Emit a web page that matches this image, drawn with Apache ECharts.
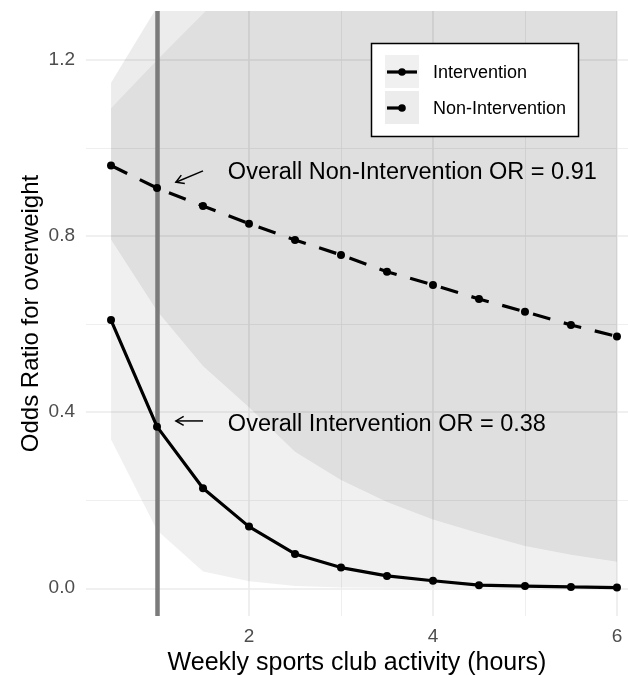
<!DOCTYPE html>
<html><head><meta charset="utf-8">
<script src="https://cdn.jsdelivr.net/npm/echarts@6/dist/echarts.min.js"></script>
<style>html,body{margin:0;padding:0;background:#fff}#c{width:628px;height:675px}</style>
</head><body><div id="c"></div>
<script>
// ---- data ----
const hours = [0.5, 1, 1.5, 2, 2.5, 3, 3.5, 4, 4.5, 5, 5.5, 6];
const orIntervention = [0.609, 0.367, 0.227, 0.140, 0.078, 0.047, 0.028, 0.017, 0.007, 0.005, 0.003, 0.0015];
const orNonIntervention = [0.960, 0.909, 0.868, 0.828, 0.791, 0.757, 0.719, 0.689, 0.657, 0.628, 0.598, 0.572];
const ciInterventionLower = [0.338, 0.132, 0.038, 0.016, 0.005, 0.002, 0.001, 0.001, 0.0005, 0.0003, 0.0002, 0.0001];
const ciInterventionUpper = [1.09, 1.20, 1.305, 1.41, 1.52, 1.63, 1.75, 1.87, 2.00, 2.10, 2.20, 2.30];
const ciNonInterventionLower = [0.792, 0.630, 0.505, 0.411, 0.310, 0.246, 0.196, 0.156, 0.125, 0.096, 0.076, 0.060];
const ciNonInterventionUpper = [1.148, 1.32, 1.50, 1.68, 1.95, 2.30, 2.60, 3.00, 3.40, 4.00, 4.60, 5.40];
const xMajorTicks = [2, 4, 6];
const xMinorTicks = [1, 3, 5];
const yMajorTicks = [0, 0.4, 0.8, 1.2];
const yMinorTicks = [0.2, 0.6, 1.0];
const overallHours = 1;
const overallNonInterventionOR = 0.91;
const overallInterventionOR = 0.38;
const seriesNames = ['Intervention', 'Non-Intervention'];

// ---- layout/style ----
const FONT = "'Liberation Sans', Arial, sans-serif";
const xMin = 0.228, xMax = 6.12, yMin = -0.063, yMax = 1.311;
const gridColor = '#ebebeb';

const pairs = (ys) => hours.map((h, i) => [h, ys[i]]);

const chart = echarts.init(document.getElementById('c'), null, {renderer: 'canvas'});

function xAxisDef(ticks, width, main) {
  return {
    type: 'value', min: xMin, max: xMax, gridIndex: 0,
    position: 'bottom',
    axisLine: {show: false},
    axisTick: {show: false, customValues: ticks},
    axisLabel: main ? {customValues: ticks, color: '#4d4d4d', fontSize: 19, fontFamily: FONT, margin: 11} : {show: false},
    splitLine: {show: true, lineStyle: {color: gridColor, width: width}},
    name: main ? 'Weekly sports club activity (hours)' : '',
    nameLocation: 'middle', nameGap: 31,
    nameTextStyle: {fontSize: 25, color: '#000', fontFamily: FONT}
  };
}
function yAxisDef(ticks, width, main) {
  return {
    type: 'value', min: yMin, max: yMax, gridIndex: 0,
    position: 'left',
    axisLine: {show: false},
    axisTick: {show: false, customValues: ticks},
    axisLabel: main ? {customValues: ticks, color: '#4d4d4d', fontSize: 19, fontFamily: FONT, margin: 11,
      formatter: v => v.toFixed(1)} : {show: false},
    splitLine: {show: true, lineStyle: {color: gridColor, width: width}},
    name: main ? 'Odds Ratio for overweight' : '',
    nameLocation: 'middle', nameGap: 43, nameMoveOverlap: false,
    nameTextStyle: {fontSize: 24, color: '#000', fontFamily: FONT}
  };
}

function ribbon(name, lower, upper, fill) {
  return {
    type: 'custom', name: name, z: 1, silent: true, clip: true,
    data: [[hours[0], lower[0]]],
    encode: {x: 0, y: 1},
    renderItem: (params, api) => {
      const pts = [];
      for (let i = 0; i < hours.length; i++) pts.push(api.coord([hours[i], upper[i]]));
      for (let i = hours.length - 1; i >= 0; i--) pts.push(api.coord([hours[i], lower[i]]));
      return {type: 'polygon', shape: {points: pts}, style: {fill: fill}};
    }
  };
}

chart.setOption({
  animation: false,
  grid: {left: 86, right: 0, top: 11, bottom: 59, containLabel: false, outerBoundsMode: 'none'},
  xAxis: [xAxisDef(xMajorTicks, 1.6, true), xAxisDef(xMinorTicks, 0.8, false)],
  yAxis: [yAxisDef(yMajorTicks, 1.6, true), yAxisDef(yMinorTicks, 0.8, false)],
  series: [
    ribbon('ciIntervention', ciInterventionLower, ciInterventionUpper, 'rgba(0,0,0,0.059)'),
    ribbon('ciNonIntervention', ciNonInterventionLower, ciNonInterventionUpper, 'rgba(0,0,0,0.075)'),
    {type: 'line', name: 'ref', data: [], z: 3, silent: true,
      markLine: {silent: true, symbol: 'none', animation: false, label: {show: false},
        lineStyle: {color: '#7b7b7b', width: 4.5, type: 'solid'},
        data: [{xAxis: overallHours}]}},
    {type: 'line', name: seriesNames[0], data: pairs(orIntervention), z: 10,
      symbol: 'circle', symbolSize: 8, itemStyle: {color: '#000'},
      lineStyle: {color: '#000', width: 3.2}},
    {type: 'line', name: seriesNames[1], data: pairs(orNonIntervention), z: 10,
      symbol: 'circle', symbolSize: 8, itemStyle: {color: '#000'},
      lineStyle: {color: '#000', width: 3.2, type: [18, 14]}}
  ]
});

// ---- annotations & legend ----
const px = (x, y) => chart.convertToPixel({xAxisIndex: 0, yAxisIndex: 0}, [x, y]);
function arrow(from, to) {
  const a = px(from[0], from[1]), b = px(to[0], to[1]);
  const ang = Math.atan2(b[1] - a[1], b[0] - a[0]);
  const L = 9, sp = Math.PI / 6;
  const h1 = [b[0] - L * Math.cos(ang - sp), b[1] - L * Math.sin(ang - sp)];
  const h2 = [b[0] - L * Math.cos(ang + sp), b[1] - L * Math.sin(ang + sp)];
  const st = {stroke: '#000', lineWidth: 1.5, fill: null};
  return [
    {type: 'polyline', z: 20, shape: {points: [a, b]}, style: st},
    {type: 'polyline', z: 20, shape: {points: [h1, b, h2]}, style: st}
  ];
}
function label(x, y, text) {
  const p = px(x, y);
  return {type: 'text', z: 20, x: p[0], y: p[1],
    style: {text: text, font: '23.5px ' + FONT, fill: '#000', align: 'left', verticalAlign: 'middle'}};
}
const g = [];
g.push(...arrow([1.5, 0.948], [1.205, 0.922]));
g.push(...arrow([1.5, 0.38], [1.205, 0.38]));
g.push(label(1.77, 0.945, 'Overall Non-Intervention OR = ' + overallNonInterventionOR.toFixed(2)));
g.push(label(1.77, 0.371, 'Overall Intervention OR = ' + overallInterventionOR.toFixed(2)));

// legend box
g.push({type: 'rect', z: 30, shape: {x: 371.5, y: 43.5, width: 207, height: 93},
  style: {fill: '#fff', stroke: '#000', lineWidth: 1.5}});
const keyFill = ['#f0f0f0', '#ececec'];
const keyY = [72, 108];
seriesNames.forEach((n, i) => {
  g.push({type: 'rect', z: 31, shape: {x: 385, y: keyY[i] - 17, width: 34, height: 33}, style: {fill: keyFill[i]}});
  g.push({type: 'line', z: 32, shape: {x1: 387, y1: keyY[i], x2: i === 0 ? 417 : 405, y2: keyY[i]},
    style: {stroke: '#000', lineWidth: 3.2}});
  g.push({type: 'circle', z: 33, shape: {cx: 402, cy: keyY[i], r: 3.8}, style: {fill: '#000'}});
  g.push({type: 'text', z: 33, x: 433, y: keyY[i] + 1,
    style: {text: n, font: '18px ' + FONT, fill: '#000', align: 'left', verticalAlign: 'middle'}});
});
chart.setOption({graphic: g});
</script>
</body></html>
